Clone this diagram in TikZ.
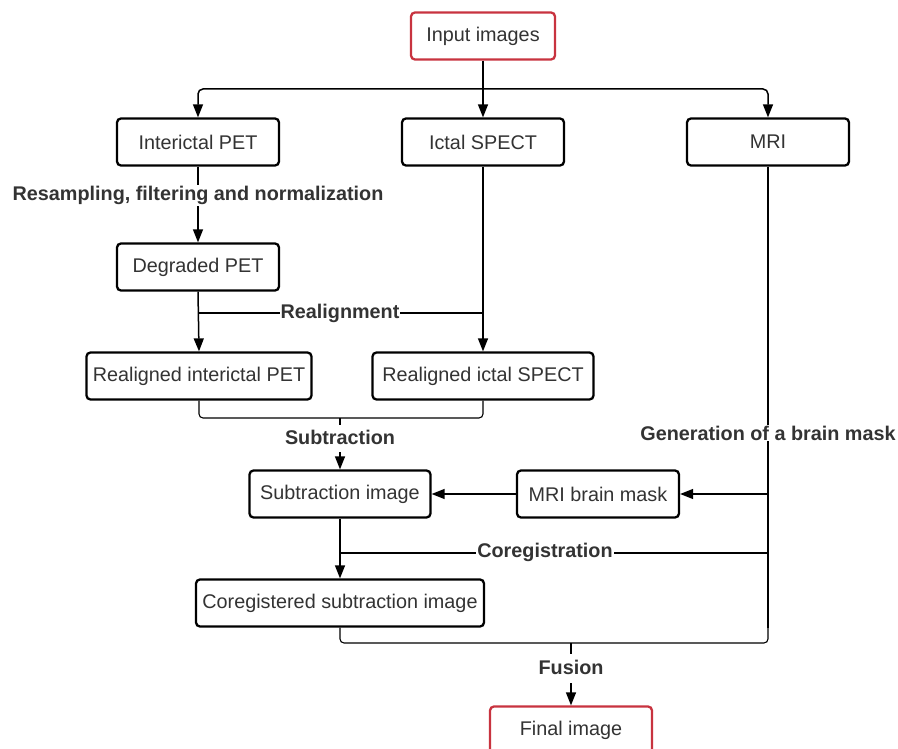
\documentclass[tikz,border=0pt]{standalone}
\usepackage{fontspec}
\setmainfont{Liberation Sans}
\usetikzlibrary{arrows.meta}
\definecolor{txt}{HTML}{333333}
\definecolor{redb}{HTML}{C8333F}
\tikzset{
  box/.style={draw=black, line width=2.3pt, rounded corners=4pt, fill=white,
    text=txt, font=\fontsize{19.8}{23}\selectfont, inner sep=2pt,
    minimum height=47pt, anchor=center},
  redbox/.style={box, draw=redb},
  conn/.style={line width=1.5pt, draw=black},
  arr/.style={conn, -{Triangle[length=13pt,width=10pt]}},
  brk/.style={line width=1.1pt, draw=black, rounded corners=4pt},
  lab/.style={fill=white, text=txt, font=\bfseries\fontsize{19.8}{23}\selectfont, inner sep=1pt},
}
\begin{document}
\begin{tikzpicture}[x=1pt,y=-1pt]
\useasboundingbox (0,0) rectangle (898,749);
\clip (0,0) rectangle (898,749);
\fill[white] (0,0) rectangle (898,749);

% nodes
\node[redbox, minimum width=144pt] (in) at (483,36) {Input images};
\node[box, minimum width=162pt] (ipet) at (198,142) {Interictal PET};
\node[box, minimum width=162pt] (spect) at (483,142) {Ictal SPECT};
\node[box, minimum width=162pt] (mri) at (768,142) {MRI};
\node[box, minimum width=162pt] (dpet) at (198,267) {Degraded PET};
\node[box, minimum width=225pt] (rpet) at (199,376) {Realigned interictal PET};
\node[box, minimum width=221pt] (rspect) at (483,376) {Realigned ictal SPECT};
\node[box, minimum width=181pt] (sub) at (340,494) {Subtraction image};
\node[box, minimum width=162pt] (mask) at (598,494) {MRI brain mask};
\node[box, minimum width=288pt] (coreg) at (340,603) {Coregistered subtraction image};
\node[redbox, minimum width=162pt] (fin) at (571,730) {Final image};

% coordinates
\coordinate (j1) at (483,89);
\coordinate (jr) at (340,313);
\coordinate (js) at (340,418);
\coordinate (jsl) at (340,452);
\coordinate (jm) at (768,494);
\coordinate (jc) at (768,553);
\coordinate (jf) at (571,643);
\coordinate (jfl) at (571,683);
\coordinate (mend) at (768,628);

% top distribution
\draw[conn] (in.south) -- (j1);
\draw[arr, rounded corners=5pt] (j1) -| (ipet.north);
\draw[arr, rounded corners=5pt] (j1) -| (mri.north);
\draw[arr] (j1) -- (spect.north);

% resampling
\draw[arr] (ipet.south) -- (dpet.north)
  node[lab, pos=0.38] {Resampling, filtering and normalization};

% realignment
\draw[arr] (dpet.south) -- (rpet.north);
\draw[arr] (spect.south) -- (rspect.north);
\draw[brk] (dpet.south |- jr) -- (spect.south |- jr);
\node[lab] at (jr) {Realignment};

% subtraction
\draw[brk] (rpet.south) |- (js) -| (rspect.south);
\draw[brk] (js) -- ++(0,7);
\node[lab] at (340,437) {Subtraction};
\draw[arr] (jsl) -- (sub.north);

% MRI branch
\draw[conn] (mri.south) -- (mend);
\node[lab] at (768,433) {Generation of a brain mask};
\draw[arr] (jm) -- (mask.east);
\draw[arr] (mask.west) -- (sub.east);

% coregistration
\draw[arr] (sub.south) -- (coreg.north);
\draw[brk] (jc) -- (sub.south |- jc);
\node[lab] at (545,552) {Coregistration};

% fusion
\draw[brk] (coreg.south) |- (jf) -| (mend);
\draw[brk] (jf) -- ++(0,11);
\node[lab] at (571,667) {Fusion};
\draw[arr] (jfl) -- (fin.north);
\end{tikzpicture}
\end{document}
